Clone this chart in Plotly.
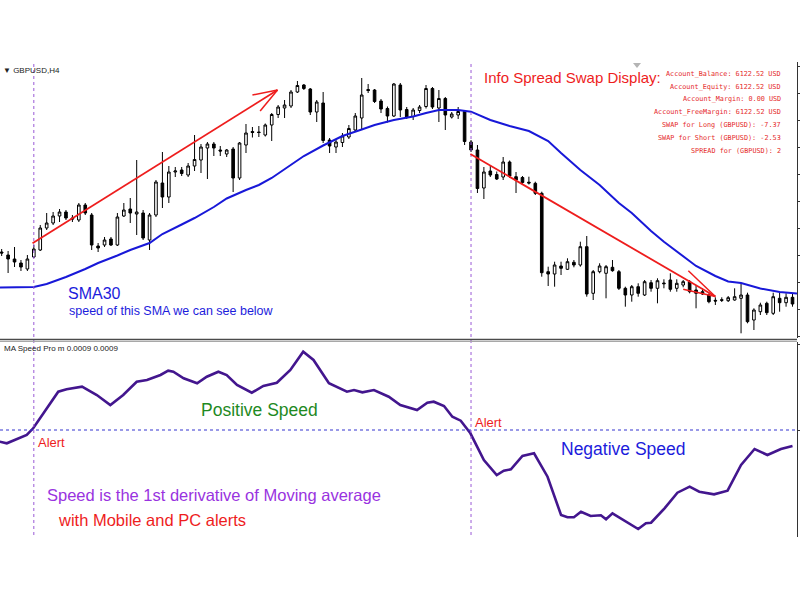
import plotly.graph_objects as go

# ---------------- data (price in chart points) ----------------
candle_idx = list(range(124))

open_ = [88, 85, 81, 77, 71, 83, 90, 112, 117, 124,
         128, 122, 120, 135, 125, 94, 95, 101, 95, 124,
         131, 126, 127, 100, 125, 157, 143, 168, 170, 165,
         174, 180, 192, 196, 190, 186, 191, 162, 195, 208.5,
         208, 205, 215, 225.5, 232, 234, 248, 255, 251, 228,
         237, 200, 193, 197.5, 203, 210, 222, 250.5, 250, 239,
         231.5, 224, 255, 230.5, 223.5, 229.5, 233.5, 251.5, 232, 241.5,
         223, 225, 228.5, 198, 190, 152, 169, 165.5, 163, 178,
         163.3, 162.5, 157.8, 156.7, 146.7, 68.3, 66, 74, 70.7, 77.7,
         75, 93.3, 46.7, 68.3, 66.7, 72.7, 68.3, 51.7, 45, 53.3,
         45, 57.3, 51.7, 57, 60, 51.7, 55, 58.3, 50, 48.3,
         45, 39.7, 40.3, 39.3, 40, 41.7, 45, 20, 28.3, 36.7,
         26.7, 41.7, 37.3, 42.7]

high = [91, 89, 93, 80, 85, 95, 115, 127, 128, 131,
        130, 125, 137, 137, 127, 97, 103, 103, 127, 137,
        142, 180, 130, 127, 160, 188, 174, 173, 173, 177,
        205, 196, 198, 198, 194, 191, 193, 198, 216, 213,
        214, 216.5, 227, 235, 240, 250, 259, 256, 252, 240,
        248, 202, 200, 207, 215, 227, 262, 256, 251, 241,
        233.5, 257, 257, 233, 232, 235, 255, 253, 250, 243,
        228, 233, 230, 200, 195, 173, 175, 168.5, 183, 179.5,
        168, 164, 163.3, 158.3, 148.3, 73.3, 78.3, 78.3, 81.7, 80,
        98.3, 104, 70, 76.7, 75, 80, 70, 53.3, 55, 56.7,
        60, 60, 61.7, 60.7, 66.7, 60.7, 60, 60, 55, 51.7,
        46.7, 42.7, 42.7, 44, 51.7, 56.7, 47.3, 31.7, 37.3, 38.3,
        47.3, 47.3, 46.7, 46.7]

low = [84, 67, 73, 69, 69, 82, 89, 110, 115, 118,
       120, 118, 118, 125, 90, 88, 93, 94, 94, 123,
       117, 105, 100, 90, 123, 132, 137, 163, 164, 163,
       169, 167, 161, 184, 184, 183, 148, 160, 187, 202.5,
       203, 203.5, 199, 222, 222, 232, 247, 250, 225, 218,
       197, 187, 187, 193, 201, 209, 210, 247, 237, 227,
       217.5, 223, 223, 221, 220, 227, 231.5, 231, 218, 210,
       221.5, 221, 195, 188, 147, 141, 163, 160, 160, 162,
       147, 155, 155.5, 145, 63.3, 54, 53.3, 65, 70, 72.7,
       73.3, 43.3, 40, 66.7, 41.7, 68.3, 50, 33.3, 38.3, 43.3,
       44, 48.3, 36.7, 51.7, 48.3, 48.3, 52.7, 46.7, 31.7, 45,
       36.7, 35, 38, 38, 39.3, 6.7, 16.7, 10, 25, 25,
       25, 28.3, 33.3, 33.3]

close = [87, 81, 78, 73, 81, 91, 112, 117, 124, 128,
         122, 121, 135, 127, 95, 92, 100, 95, 123, 130,
         127, 128, 102, 125, 158, 143, 168, 169, 166.5, 174,
         180.5, 193, 196, 192, 189, 190, 162, 197, 207, 207.5,
         207.5, 215, 225.5, 233, 235, 248, 254.5, 251.5, 228, 238,
         199.5, 194, 198, 204, 211.5, 224, 245, 249.5, 238.5, 231,
         224, 256, 230, 223, 230, 233, 251.5, 233, 241.5, 225,
         226, 228.5, 198.5, 190, 151.5, 168, 165, 161, 178, 164,
         160, 157.5, 157, 146.7, 67.3, 66, 75, 71.7, 78.3, 75,
         93.3, 46, 68.3, 74, 73.3, 69.3, 51.7, 45, 53.3, 46.7,
         58.3, 51.7, 59.3, 56.3, 50.7, 56.7, 58.3, 48.3, 46.7, 46,
         38.3, 39, 39.7, 42.3, 43.3, 45, 18.3, 30, 35, 27.3,
         43.3, 37.3, 42.7, 36]

sma_x = [-0.3, 2, 5, 7, 10, 13, 15, 18, 20, 23, 25, 28, 30, 33, 35, 38, 40, 42, 44,
         47, 50, 53, 56, 58, 61, 64, 66, 68, 71, 73, 76, 79, 82, 85, 87, 90, 93, 96,
         98, 101, 103, 106, 108, 111, 113, 115, 116, 118, 121, 123.7]
sma_v = [52.5, 52.5, 53, 56, 63, 71, 77, 84.5, 90, 97, 106, 115.5, 122, 133, 141.5,
         150, 155, 162, 170.5, 184, 194.5, 204, 210.5, 215, 220, 223.5, 227, 230, 230,
         228.3, 220, 214, 209, 199, 187, 170, 155, 137, 127, 109, 98.3, 84, 74, 64,
         58.5, 57, 55, 51.5, 48, 46.5]

speed_x = [-0.3, 0.8, 3.9, 4.9, 6.5, 8.8, 10.1, 12.5, 14.8, 16.9, 18.9, 21.0, 22.6,
           24.7, 25.9, 26.7, 28.3, 30.4, 31.9, 33.7, 35.0, 36.6, 38.9, 40.7, 42.8,
           44.9, 46.9, 48.5, 50.9, 53.7, 54.8, 56.1, 57.9, 60.2, 62.0, 63.3, 64.6,
           66.2, 67.2, 68.8, 70.1, 71.4, 72.9, 75.0, 77.0, 78.1, 79.2, 81.0, 82.8,
           84.9, 87.0, 88.0, 89.0, 90.1, 91.6, 93.2, 94.0, 95.0, 96.8, 99.0, 100.2,
           101.0, 103.1, 105.1, 107.0, 108.5, 110.8, 112.9, 115.0, 117.1, 119.1,
           121.2, 123.0]
speed_v = [-11.7, -13.3, -5, 1.7, 16.7, 38.3, 40.7, 43.3, 35, 25, 35, 48.3, 50, 55,
           59.3, 58.3, 51.7, 46.7, 53.3, 58.3, 55, 45, 37.3, 44, 47.3, 60, 78.3, 70,
           46.7, 38.3, 40, 37.7, 40, 33.3, 25, 22.3, 20, 27.3, 28.3, 24, 13.3, 9.3,
           -3.3, -30, -45, -40.7, -39.3, -26, -23.3, -46.7, -85, -87.3, -87.3, -81.7,
           -86, -85.3, -89.3, -83.3, -90.7, -99, -93.3, -92.7, -78.3, -62.7, -56.7,
           -61.7, -64.3, -60.7, -35, -19, -25, -19, -16]

alert_idx = [5, 73]

account_lines = ["Account_Balance: 6122.52 USD",
                 "Account_Equity: 6122.52 USD",
                 "Account_Margin: 0.00 USD",
                 "Account_FreeMargin: 6122.52 USD",
                 "SWAP for Long (GBPUSD): -7.37",
                 "SWAP for Short (GBPUSD): -2.53",
                 "SPREAD for (GBPUSD): 2"]

# ---------------- layout geometry ----------------
W, H = 800, 600
ML, MR, MT, MB = 0, 3, 62, 63
PW = W - ML - MR
PH = H - MT - MB


def px(x):
    return (x - ML) / PW


def py(y):
    return 1 - (y - MT) / PH


RED = "#ee1d1d"
BLUE = "#1c1cdc"
FONT = "Liberation Sans, Arial, sans-serif"

fig = go.Figure()
fig.add_trace(go.Candlestick(
    x=candle_idx, open=open_, high=high, low=low, close=close,
    increasing=dict(line=dict(color="black", width=1), fillcolor="white"),
    decreasing=dict(line=dict(color="black", width=1), fillcolor="black"),
    whiskerwidth=0, xaxis="x", yaxis="y", showlegend=False, hoverinfo="skip"))
fig.add_trace(go.Scatter(x=sma_x, y=sma_v, mode="lines",
                         line=dict(color="#1818d8", width=2),
                         xaxis="x", yaxis="y", showlegend=False, hoverinfo="skip"))
fig.add_trace(go.Scatter(x=speed_x, y=speed_v, mode="lines",
                         line=dict(color="#43168e", width=2.6),
                         xaxis="x2", yaxis="y2", showlegend=False, hoverinfo="skip"))

xr = [-0.26, 123.7]
shapes = []
for a in alert_idx:
    shapes.append(dict(type="line", xref="x", yref="paper", x0=a, x1=a, y0=py(535), y1=1,
                       line=dict(color="#9a5ad6", width=1, dash="dot")))
shapes.append(dict(type="line", xref="paper", yref="y2", x0=0, x1=1, y0=0, y1=0,
                   line=dict(color="#3535d0", width=1.2, dash="dot")))
shapes.append(dict(type="line", xref="paper", yref="paper", x0=0, x1=1,
                   y0=py(339.5), y1=py(339.5), line=dict(color="#4a4a4a", width=1.5)))
shapes.append(dict(type="line", xref="paper", yref="paper", x0=0, x1=1,
                   y0=py(341.5), y1=py(341.5), line=dict(color="#a8a8a8", width=1)))
# small grey chart-shift marker (triangle)
shapes.append(dict(type="path", xref="paper", yref="paper",
                   path=f"M {px(633)},{py(63)} L {px(641)},{py(63)} L {px(637)},{py(68)} Z",
                   fillcolor="#b4b4b4", line=dict(width=0)))

# red trend arrows (data coordinates)
arrows = [
    ((4.8, 96.7), (42.9, 250.0), [(39.0, 245.0), (40.2, 229.0)]),
    ((72.9, 186.0), (111.0, 43.5), [(106.8, 69.3), (106.0, 50.7)]),
]
for (x0, y0), (x1, y1), heads in arrows:
    shapes.append(dict(type="line", xref="x", yref="y", x0=x0, y0=y0, x1=x1, y1=y1,
                       line=dict(color=RED, width=1.8)))
    for hx, hy in heads:
        shapes.append(dict(type="line", xref="x", yref="y", x0=hx, y0=hy, x1=x1, y1=y1,
                           line=dict(color=RED, width=1.5)))

ann = []


def text(t, x, y, size, color, family=FONT, xanchor="left"):
    ann.append(dict(text=t, x=px(x), y=py(y), xref="paper", yref="paper",
                    xanchor=xanchor, yanchor="middle", showarrow=False,
                    font=dict(size=size, color=color, family=family)))


text("▼ GBPUSD,H4", 1, 70, 8, "#222222")
text("Info Spread Swap Display:", 482, 78, 15, RED)
acc_y = [74, 86.7, 99.3, 112.3, 125.3, 138.3, 150.7]
for t, yy in zip(account_lines, acc_y):
    text(t, 783, yy, 6.8, "#e52a2a", family="DejaVu Sans Mono, monospace", xanchor="right")
text("SMA30", 66, 293, 16, BLUE)
text("speed of this SMA we can see below", 67, 311, 12.5, BLUE)
text("MA Speed Pro m 0.0009 0.0009", 2, 348, 8, "#222222")
text("Positive Speed", 199, 409.5, 17.5, "#1f8a1f")
text("Alert", 36, 442, 13, RED)
text("Alert", 473, 422, 13, RED)
text("Negative Speed", 559, 448.5, 17.5, BLUE)
text("Speed is the 1st derivative of Moving average", 45, 495, 16.5, "#9933e0")
text("with Mobile and PC alerts", 56, 520, 16.5, RED)

fig.update_layout(
    width=W, height=H,
    margin=dict(l=ML, r=MR, t=MT, b=MB, pad=0),
    paper_bgcolor="white", plot_bgcolor="white",
    showlegend=False, boxgap=0.42,
    xaxis=dict(domain=[0, 1], range=xr, anchor="y", showticklabels=False,
               showgrid=False, zeroline=False, showline=False, ticks="",
               rangeslider=dict(visible=False)),
    xaxis2=dict(domain=[0, 1], range=xr, anchor="y2", showticklabels=False,
                showgrid=False, zeroline=False, showline=False, ticks=""),
    yaxis=dict(domain=[py(338), 1], range=[2, 278], anchor="x", side="right",
               showline=True, linecolor="#333333", linewidth=1, ticks="outside",
               ticklen=3, tickcolor="#333333", showticklabels=False,
               showgrid=False, zeroline=False, tick0=220, dtick=27),
    yaxis2=dict(domain=[0, py(342)], range=[-107, 88], anchor="x2", side="right",
                showline=True, linecolor="#333333", linewidth=1, ticks="outside",
                ticklen=3, tickcolor="#333333", showticklabels=False,
                showgrid=False, zeroline=False, tickvals=[0, 86]),
    shapes=shapes, annotations=ann,
)

fig.write_html("out.html")
